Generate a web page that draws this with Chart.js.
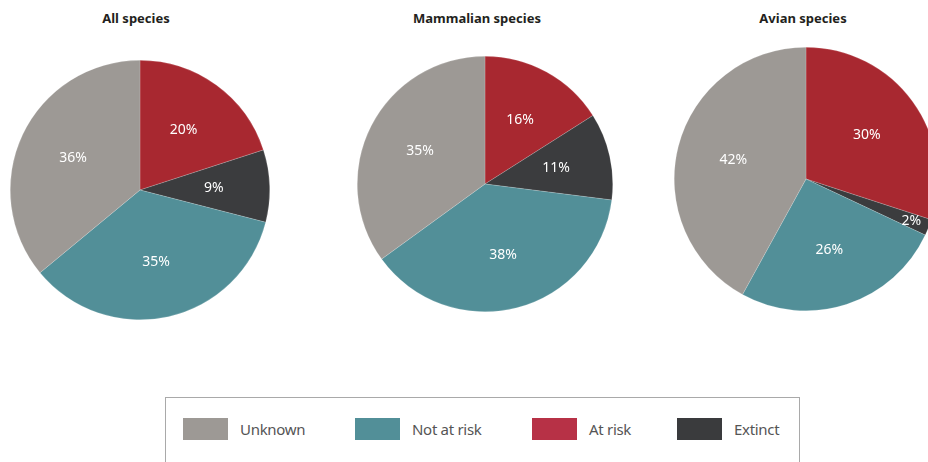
<!DOCTYPE html>
<html>
<head>
<meta charset="utf-8">
<script src="https://cdn.jsdelivr.net/npm/chart.js@4/dist/chart.umd.min.js"></script>
<style>
  html, body { margin: 0; padding: 0; }
  body { width: 928px; height: 462px; overflow: hidden; position: relative; background: #fff; font-family: 'Noto Sans', sans-serif; }
  .title { position: absolute; top: 9px; font-weight: bold; font-size: 13px; color: #231f20; transform: translateX(-50%); white-space: nowrap; }
  .pie { position: absolute; }
  #legend { position: absolute; left: 165px; top: 397px; width: 635px; height: 90px; border: 1px solid #a9a9a9; box-sizing: border-box; }
  .item { position: absolute; top: 20px; display: flex; align-items: center; }
  .swatch { width: 45px; height: 22px; margin-right: 12px; }
  .label { font-size: 15px; color: #555; letter-spacing: -0.3px; }
</style>
</head>
<body>
<div class="title" style="left:136px">All species</div>
<div class="title" style="left:477px">Mammalian species</div>
<div class="title" style="left:803px">Avian species</div>
<div class="pie" style="left:10px; top:60px"><canvas id="pie1" width="260" height="260"></canvas></div>
<div class="pie" style="left:357px; top:56px"><canvas id="pie2" width="256" height="256"></canvas></div>
<div class="pie" style="left:674px; top:47px"><canvas id="pie3" width="264" height="264"></canvas></div>
<div id="legend"></div>
<script>
// slices run clockwise from 12 o'clock
const categories = ['At risk', 'Extinct', 'Not at risk', 'Unknown'];
const allSpecies = [20, 9, 35, 36];
const mammalianSpecies = [16, 11, 38, 35];
const avianSpecies = [30, 2, 26, 42];
const legendOrder = ['Unknown', 'Not at risk', 'At risk', 'Extinct'];

const sliceColors = {
  'At risk': '#a82830',
  'Extinct': '#3b3c3e',
  'Not at risk': '#528f98',
  'Unknown': '#9d9995'
};
const legendColors = {
  'At risk': '#b73146',
  'Extinct': '#3a3b3d',
  'Not at risk': '#528f98',
  'Unknown': '#9d9995'
};

// white percentage inside each slice
const pctLabels = {
  id: 'pctLabels',
  afterDatasetsDraw(chart) {
    const ctx = chart.ctx;
    const meta = chart.getDatasetMeta(0);
    const values = chart.data.datasets[0].data;
    ctx.save();
    ctx.fillStyle = '#fff';
    ctx.font = '14px "Noto Sans", sans-serif';
    ctx.textAlign = 'center';
    ctx.textBaseline = 'middle';
    meta.data.forEach((arc, i) => {
      const p = arc.getProps(['x', 'y', 'startAngle', 'endAngle', 'outerRadius'], true);
      const mid = (p.startAngle + p.endAngle) / 2;
      const f = values[i] < 5 ? 0.86 : 0.57;
      ctx.fillText(values[i] + '%', p.x + Math.cos(mid) * p.outerRadius * f, p.y + Math.sin(mid) * p.outerRadius * f);
    });
    ctx.restore();
  }
};

function drawPie(id, values) {
  return new Chart(document.getElementById(id), {
    type: 'pie',
    data: {
      labels: categories,
      datasets: [{
        data: values,
        backgroundColor: categories.map(c => sliceColors[c]),
        borderColor: 'rgba(255,255,255,0.35)',
        borderWidth: 0.5
      }]
    },
    options: {
      responsive: false,
      animation: false,
      layout: { padding: 0 },
      plugins: { legend: { display: false }, tooltip: { enabled: false } }
    },
    plugins: [pctLabels]
  });
}

drawPie('pie1', allSpecies);
drawPie('pie2', mammalianSpecies);
drawPie('pie3', avianSpecies);

const legendX = [17, 189, 366, 511];
const legend = document.getElementById('legend');
legendOrder.forEach((name, i) => {
  const item = document.createElement('div');
  item.className = 'item';
  item.style.left = legendX[i] + 'px';
  item.innerHTML = '<div class="swatch" style="background:' + legendColors[name] + '"></div><span class="label">' + name + '</span>';
  legend.appendChild(item);
});
</script>
</body>
</html>
